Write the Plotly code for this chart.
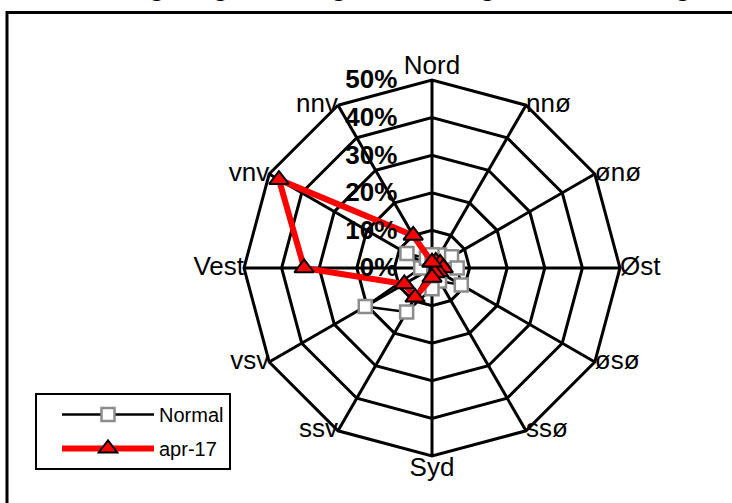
import plotly.graph_objects as go

# Wind direction sectors, clockwise from north
directions = ["Nord", "nnø", "ønø", "Øst", "øsø", "ssø",
              "Syd", "ssv", "vsv", "Vest", "vnv", "nnv"]

# Share of observations per sector (%)
normal = [3.5, 4.0, 6.0, 6.7, 9.0, 4.0, 5.5, 13.5, 20.5, 3.0, 7.7, 3.0]
apr17 = [1.5, 2.0, 2.5, 3.0, 2.0, 1.5, 2.5, 9.0, 8.5, 34.0, 47.0, 10.0]

radial_ticks = [0, 10, 20, 30, 40, 50]
radial_labels = [f"{v}%" for v in radial_ticks]

title_text = "Vindretninger og fordeling, normalt og seneste måling"

W, H = 732, 503
cx, cy, R = 432, 268, 188  # pixel centre and outer radius of the web
r_max = radial_ticks[-1]

# where each direction label sits relative to the end of its spoke
label_pos = ["top center", "middle right", "middle right", "middle right",
             "middle right", "middle right", "bottom center", "middle left",
             "middle left", "middle left", "middle left", "middle left"]


def closed(seq):
    return list(seq) + [seq[0]]


fig = go.Figure()

fig.add_trace(go.Scatterpolar(
    r=closed(normal), theta=closed(directions), name="Normal",
    legendgroup="a",
    mode="lines+markers",
    line=dict(color="black", width=2.5),
    marker=dict(symbol="square", size=13, color="white",
                line=dict(color="#8c8c8c", width=2.5)),
    hoverinfo="skip",
))

fig.add_trace(go.Scatterpolar(
    r=closed(apr17), theta=closed(directions), name="apr-17",
    legendgroup="b",
    mode="lines+markers",
    line=dict(color="#ff0000", width=6),
    marker=dict(symbol="triangle-up", size=17, color="#ff0000",
                line=dict(color="black", width=2)),
    hoverinfo="skip",
))

# direction names at the outer ring
fig.add_trace(go.Scatterpolar(
    r=[r_max] * len(directions), theta=directions, text=directions,
    mode="text", textposition=label_pos,
    textfont=dict(size=26, color="black"),
    cliponaxis=False, showlegend=False, hoverinfo="skip",
))

fig.update_layout(
    width=W, height=H,
    margin=dict(l=0, r=0, t=0, b=0),
    paper_bgcolor="white",
    font=dict(family="Arial, Liberation Sans, sans-serif", color="black"),
    showlegend=True,
    legend=dict(
        x=35 / W, y=1 - 393 / H, xanchor="left", yanchor="top",
        bgcolor="white", bordercolor="black", borderwidth=2,
        font=dict(size=20, color="black"),
        itemwidth=92, indentation=20, tracegroupgap=5,
    ),
    polar=dict(
        domain=dict(x=[(cx - R) / W, (cx + R) / W],
                    y=[(H - cy - R) / H, (H - cy + R) / H]),
        bgcolor="white",
        gridshape="linear",
        angularaxis=dict(
            type="category", categoryarray=directions,
            direction="clockwise", rotation=90,
            showline=True, linecolor="black", linewidth=3,
            showgrid=True, gridcolor="black", gridwidth=3,
            ticks="", showticklabels=False,
        ),
        radialaxis=dict(
            range=[0, r_max], angle=90, side="counterclockwise",
            tickvals=radial_ticks, ticktext=radial_labels,
            showline=False, showgrid=True, gridcolor="black", gridwidth=3,
            ticks="outside", ticklen=25, tickcolor="rgba(0,0,0,0)",
            tickangle=90,
            tickfont=dict(size=26, color="black", weight="bold"),
        ),
    ),
    annotations=[dict(
        text=title_text, xref="paper", yref="paper",
        x=20 / W, y=1 - 3.3 / H, xanchor="left", yanchor="bottom",
        showarrow=False, borderpad=0,
        font=dict(size=26, color="black", weight="bold"),
    )],
    shapes=[dict(
        type="rect", xref="paper", yref="paper",
        x0=7 / W, x1=1.05, y0=-0.05, y1=1 - 12.5 / H,
        line=dict(color="black", width=3), fillcolor="rgba(0,0,0,0)",
        layer="below",
    )],
)

fig.write_html("out.html")
